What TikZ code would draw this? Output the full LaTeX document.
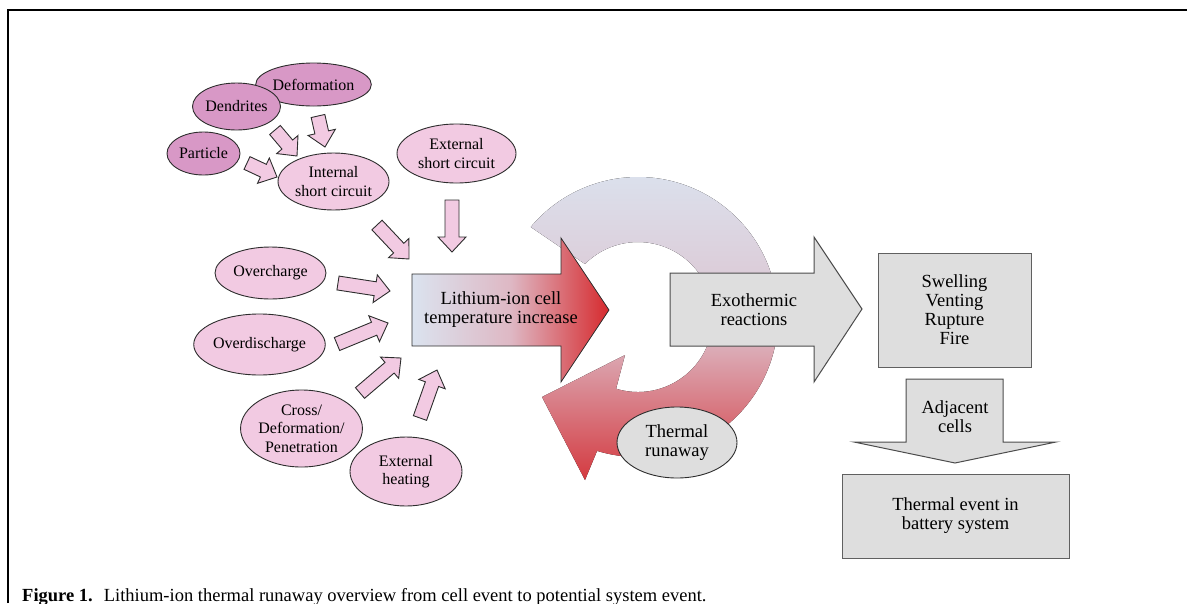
\documentclass[tikz,border=0pt]{standalone}
\usepackage{fontspec}
\setmainfont{Liberation Serif}
\usepackage{tikz}
\usetikzlibrary{calc,shapes.geometric}

\definecolor{pinkdark}{RGB}{216,152,198}
\definecolor{pinklight}{RGB}{242,202,226}
\definecolor{boxgrey}{RGB}{222,222,222}
\definecolor{coolblue}{RGB}{219,227,239}
\definecolor{warmpink}{RGB}{222,184,196}
\definecolor{ringmid}{RGB}{221,196,208}
\definecolor{hotred}{RGB}{214,42,46}
\definecolor{ringred}{RGB}{212,58,64}
\definecolor{inkline}{RGB}{45,45,45}

\tikzset{
  cause/.style={ellipse, draw=inkline, line width=0.9pt, fill=pinklight, inner sep=0pt,
    align=center, font=\fontsize{16}{18.5}\selectfont},
  rootcause/.style={cause, fill=pinkdark},
  greybox/.style={draw=gray!75!black, line width=1pt, fill=boxgrey, inner sep=0pt,
    align=center, font=\fontsize{18.5}{19}\selectfont},
  bigtext/.style={align=center, inner sep=0pt, font=\fontsize{18.5}{19}\selectfont},
  pinkarrow/.style={draw=inkline, line width=0.9pt, fill=pinklight, line join=miter},
}

% fat pink arrow from #1 to #2
\newcommand{\blockarrow}[2]{%
  \coordinate (hb) at ($(#2)!15pt!(#1)$);
  \draw[pinkarrow] ($(#1)!7pt!90:(#2)$) -- ($(hb)!7pt!90:(#2)$) -- ($(hb)!14pt!90:(#2)$)
    -- (#2) -- ($(hb)!14pt!-90:(#2)$) -- ($(hb)!7pt!-90:(#2)$) -- ($(#1)!7pt!-90:(#2)$) -- cycle;
}

\begin{document}
\begin{tikzpicture}[x=1pt, y=-1pt]
    \useasboundingbox (0,0) rectangle (1187,603);

    % Frame
    \draw[line width=2pt] (8,603) -- (8,10) -- (1187,10);

    % Causes
    \node[rootcause, minimum width=95, minimum height=43] (deform) at (313.5,84.5) {Deformation};
    \node[rootcause, minimum width=75, minimum height=47] (dendr) at (236.5,106.5) {Dendrites};
    \node[rootcause, minimum width=73, minimum height=43] (partic) at (203.5,153.5) {Particle};
    \node[cause, minimum width=111, minimum height=57] (intsc) at (333.5,181.5) {Internal\\short circuit};
    \node[cause, minimum width=119, minimum height=59] (extsc) at (456.5,153.5) {External\\short circuit};
    \node[cause, minimum width=111, minimum height=52] (overch) at (270.5,273) {Overcharge};
    \node[cause, minimum width=123, minimum height=61] (overdis) at (259.5,344.5) {Overdischarge};
    \node[cause, minimum width=113, minimum height=77] (crush) at (301.5,428.5) {Cross/\\Deformation/\\Penetration};
    \node[cause, minimum width=112, minimum height=69] (extheat) at (406,471.5) {External\\heating};

    % Loop
    \coordinate (loop) at (638,317);
    \fill[top color=coolblue, bottom color=ringred, middle color=ringmid]
        ($(loop)+(-140:140)$) arc[start angle=-140, end angle=107, radius=140]
        -- (585,480) -- (542,397) -- (625,355)
        -- ($(loop)+(107:75)$) arc[start angle=107, end angle=-135, radius=75] -- cycle;

    % Cell arrow
    \draw[inkline, line width=0.8pt, left color=coolblue, right color=hotred, middle color=warmpink]
        (412,274) -- (561,274) -- (561,238) -- (609,310) -- (561,382) -- (561,346) -- (412,346) -- cycle;
    \node[bigtext] (cell) at (501,310) {Lithium-ion cell\\temperature increase};

    % Exothermic arrow
    \draw[gray!60!black, line width=1pt, fill=boxgrey]
        (670,273) -- (814,273) -- (814,237) -- (862,309) -- (814,382) -- (814,346) -- (670,346) -- cycle;
    \node[bigtext] (exo) at (754,310) {Exothermic\\reactions};

    \node[cause, fill=boxgrey, minimum width=120, minimum height=71, font=\fontsize{18.5}{19}\selectfont]
        (runaway) at (677,442.5) {Thermal\\runaway};

    % Outcomes
    \node[greybox, minimum width=153, minimum height=114] (swell) at (954.5,310) {Swelling\\Venting\\Rupture\\Fire};
    \node[greybox, minimum width=227, minimum height=84] (event) at (955.5,516) {Thermal event in\\battery system};
    \draw[gray!60!black, line width=1pt, fill=boxgrey]
        (906,379) -- (1003,379) -- (1003,442) -- (1056,442) -- (955,463) -- (854,442) -- (906,442) -- cycle;
    \node[bigtext] (adj) at (955,417) {Adjacent\\cells};

    % Pink connectors
    \coordinate (partic-a) at (247,163);
    \coordinate (partic-b) at (277,177);
    \coordinate (dendr-a) at (275,130);
    \coordinate (dendr-b) at (297,156);
    \coordinate (deform-a) at (318,116);
    \coordinate (deform-b) at (325,147);
    \coordinate (intsc-a) at (377,225);
    \coordinate (intsc-b) at (409,259);
    \coordinate (extsc-a) at (452,200);
    \coordinate (extsc-b) at (452,252);
    \coordinate (overch-a) at (338,283);
    \coordinate (overch-b) at (390,291);
    \coordinate (overdis-a) at (337,344);
    \coordinate (overdis-b) at (388,323);
    \coordinate (crush-a) at (360,393);
    \coordinate (crush-b) at (401,358);
    \coordinate (extheat-a) at (420,418);
    \coordinate (extheat-b) at (437,370);
    \foreach \src in {partic,dendr,deform,intsc,extsc,overch,overdis,crush,extheat}
        {\blockarrow{\src-a}{\src-b}}

    % Caption
    \node[anchor=base west, inner sep=0pt, font=\fontsize{18.5}{20}\selectfont] (caption) at (22,601)
        {\textbf{Figure 1.}\hspace{0.6em}Lithium-ion thermal runaway overview from cell event to potential system event.};
\end{tikzpicture}
\end{document}
